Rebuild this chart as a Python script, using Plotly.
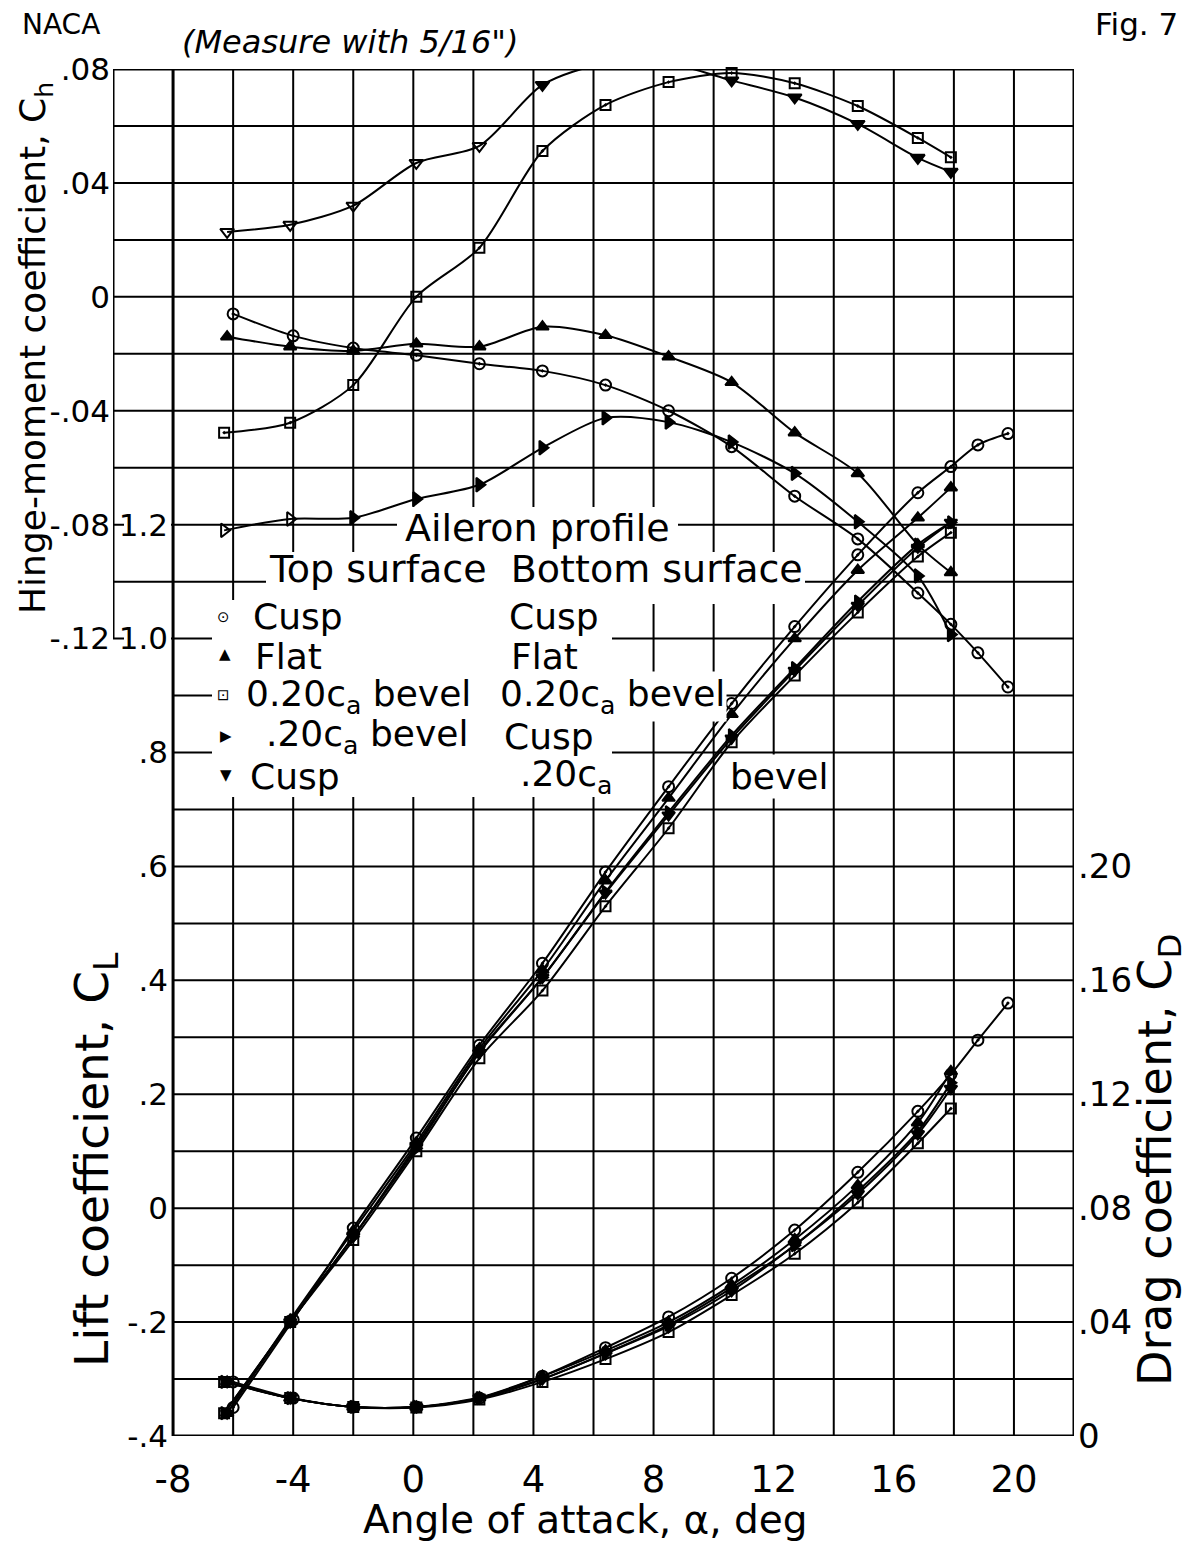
import plotly.graph_objects as go

# ---------------- data ----------------
alpha_cusp = [-6.0, -4.0, -2.0, 0.1, 2.2, 4.3, 6.4, 8.5, 10.6, 12.7, 14.8, 16.8, 17.9, 18.8, 19.8]
alpha_flat = [-6.2, -4.1, -2.0, 0.1, 2.2, 4.3, 6.4, 8.5, 10.6, 12.7, 14.8, 16.8, 17.9]
alpha_bevel = [-6.3, -4.1, -2.0, 0.1, 2.2, 4.3, 6.4, 8.5, 10.6, 12.7, 14.8, 16.8, 17.9]
alpha_bevel_cusp = [-6.3, -4.1, -2.0, 0.1, 2.2, 4.3, 6.4, 8.5, 10.6, 12.7, 14.8, 16.8, 17.9]
alpha_cusp_bevel = [-6.2, -4.1, -2.0, 0.1, 2.2, 4.3, 6.4, 8.5, 10.6, 12.7, 14.8, 16.8, 17.9]

# hinge-moment coefficient Ch
ch_cusp = [-0.006, -0.0137, -0.018, -0.0205, -0.0235, -0.026, -0.031, -0.040, -0.0526, -0.070,
           -0.085, -0.104, -0.115, -0.125, -0.137]
ch_flat = [-0.014, -0.0175, -0.019, -0.0165, -0.0175, -0.0105, -0.0135, -0.021, -0.030, -0.0477,
           -0.062, -0.087, -0.0968]
ch_bevel = [-0.0477, -0.0442, -0.031, 0.0, 0.0172, 0.0512, 0.0674, 0.0754, 0.0786, 0.075,
            0.067, 0.0558, 0.049]
ch_bevel_cusp = [-0.082, -0.078, -0.0776, -0.071, -0.066, -0.053, -0.0425, -0.044, -0.051, -0.062,
                 -0.079, -0.098, -0.1186]
ch_cusp_bevel = [0.0228, 0.0253, 0.032, 0.047, 0.053, 0.0744, 0.082, 0.082, 0.076, 0.070,
                 0.0607, 0.0488, 0.0439]

# lift coefficient CL
cl_cusp = [-0.35, -0.196, -0.035, 0.123, 0.286, 0.43, 0.59, 0.74, 0.886, 1.021, 1.147, 1.256,
           1.302, 1.34, 1.36]
cl_flat = [-0.36, -0.196, -0.04, 0.115, 0.28, 0.418, 0.575, 0.72, 0.867, 1.0, 1.12, 1.212, 1.265]
cl_bevel = [-0.36, -0.2, -0.056, 0.10, 0.263, 0.382, 0.53, 0.667, 0.818, 0.935, 1.046, 1.144, 1.186]
cl_bevel_cusp = [-0.36, -0.2, -0.05, 0.105, 0.275, 0.405, 0.555, 0.695, 0.83, 0.948, 1.065, 1.165, 1.204]
cl_cusp_bevel = [-0.36, -0.2, -0.05, 0.11, 0.273, 0.405, 0.553, 0.69, 0.825, 0.944, 1.058, 1.16, 1.204]

# drag coefficient CD
cd_cusp = [0.019, 0.0133, 0.0102, 0.0102, 0.0133, 0.021, 0.031, 0.0418, 0.0554, 0.0723, 0.0926,
           0.114, 0.127, 0.139, 0.152]
cd_flat = [0.019, 0.0133, 0.0102, 0.0102, 0.0135, 0.021, 0.030, 0.040, 0.053, 0.069, 0.088, 0.110, 0.128]
cd_bevel = [0.019, 0.0133, 0.0102, 0.0100, 0.0128, 0.019, 0.027, 0.0365, 0.0495, 0.064, 0.082,
            0.1028, 0.115]
cd_bevel_cusp = [0.019, 0.0133, 0.0102, 0.0102, 0.0133, 0.020, 0.029, 0.039, 0.052, 0.067, 0.086,
                 0.107, 0.124]
cd_cusp_bevel = [0.019, 0.0133, 0.0102, 0.0102, 0.0133, 0.020, 0.029, 0.0385, 0.051, 0.067, 0.085,
                 0.106, 0.122]

x_tickvals = [-8, -4, 0, 4, 8, 12, 16, 20]
x_ticktext = ["-8", "-4", "0", "4", "8", "12", "16", "20"]
ch_tickvals = [-0.12, -0.08, -0.04, 0, 0.04, 0.08]
ch_ticktext = ["-.12", "-.08", "-.04", "0", ".04", ".08"]
cl_tickvals = [-0.4, -0.2, 0, 0.2, 0.4, 0.6, 0.8, 1.0, 1.2]
cl_ticktext = ["-.4", "-.2", "0", ".2", ".4", ".6", ".8", "1.0", "1.2"]
cd_tickvals = [0, 0.04, 0.08, 0.12, 0.16, 0.20]
cd_ticktext = ["0", ".04", ".08", ".12", ".16", ".20"]

# ---------------- geometry ----------------
W, H = 1197, 1541
PL, PR, PT, PB = 113, 1074, 69, 1436
XR = [-10, 22]
CLR = [-0.4, 2.0]
CHR = [-0.4, 0.08]
CDR = [0.0, 0.48]
FONT = "DejaVu Sans"


def px(xp):
    return (xp - PL) / (PR - PL)


def py(yp):
    return (PB - yp) / (PB - PT)


def dx(xp):
    return XR[0] + px(xp) * (XR[1] - XR[0])


def dy(yp):
    return CLR[0] + py(yp) * (CLR[1] - CLR[0])


fig = go.Figure()


def add(xs, ys, axis, sym, size=11, lw=2):
    fig.add_trace(go.Scatter(
        x=xs, y=ys, yaxis=axis, mode="lines+markers",
        line=dict(color="black", width=lw, shape="spline", smoothing=0.8),
        marker=dict(symbol=sym, size=size, color="black", line=dict(color="black", width=2)),
        cliponaxis=False, showlegend=False, hoverinfo="skip"))


# hinge-moment curves
add(alpha_cusp, ch_cusp, "y2", "circle-open-dot", 11)
add(alpha_flat, ch_flat, "y2", "triangle-up", 11)
add(alpha_bevel, ch_bevel, "y2", "square-open-dot", 10)
add(alpha_bevel_cusp, ch_bevel_cusp, "y2",
    ["triangle-right-open"] * 2 + ["triangle-right"] * 11, 12)
add(alpha_cusp_bevel, ch_cusp_bevel, "y2",
    ["triangle-down-open"] * 5 + ["triangle-down"] * 8, 12)

# lift curves
add(alpha_cusp, cl_cusp, "y", "circle-open-dot", 11)
add(alpha_flat, cl_flat, "y", "triangle-up", 11)
add(alpha_bevel, cl_bevel, "y", "square-open-dot", 10)
add(alpha_bevel_cusp, cl_bevel_cusp, "y", "triangle-right", 11)
add(alpha_cusp_bevel, cl_cusp_bevel, "y", "triangle-down", 11)

# drag curves
add(alpha_cusp, cd_cusp, "y3", "circle-open-dot", 11)
add(alpha_flat, cd_flat, "y3", "triangle-up", 11)
add(alpha_bevel, cd_bevel, "y3", "square-open-dot", 10)
add(alpha_bevel_cusp, cd_bevel_cusp, "y3", "triangle-right", 11)
add(alpha_cusp_bevel, cd_cusp_bevel, "y3", "triangle-down", 11)

# ---------------- grid (drawn as shapes) ----------------
shapes = []
for k in range(25):
    v = round(CLR[0] + 0.1 * k, 3)
    x0 = -10 if v >= 0.999 else -8
    w = 3 if k in (0, 24) else 2
    shapes.append(dict(type="line", xref="x", yref="y", x0=x0, x1=22, y0=v, y1=v,
                       line=dict(color="black", width=w), layer="below"))
for xv in range(-10, 23, 2):
    y0 = 1.0 if xv == -10 else -0.4
    w = 3 if xv in (-10, -8, 22) else 2
    shapes.append(dict(type="line", xref="x", yref="y", x0=xv, x1=xv, y0=y0, y1=2.0,
                       line=dict(color="black", width=w), layer="below"))

# white masks behind lettering (same layer as grid, drawn after it)
masks = [
    (397, 507, 678, 556),   # Aileron profile
    (266, 552, 805, 604),   # Top surface Bottom surface
    (212, 600, 612, 797),   # legend body
    (124, 509, 171, 540),   # 1.2 label
    (124, 623, 171, 654),   # 1.0 label
]
for (x0, y0, x1, y1) in masks:
    shapes.append(dict(type="rect", xref="x", yref="y", x0=dx(x0), x1=dx(x1),
                       y0=dy(y1), y1=dy(y0), fillcolor="white", line=dict(width=0),
                       layer="below"))

# ---------------- text ----------------
ann = []


def text(t, xp, yp, size, xanchor="center", angle=0, bg=None, italic=False):
    if italic:
        t = "<i>" + t + "</i>"
    d = dict(text=t, x=px(xp), y=py(yp), xref="paper", yref="paper", showarrow=False,
             xanchor=xanchor, yanchor="middle", textangle=angle,
             font=dict(family=FONT, size=size, color="black"))
    if bg:
        d["bgcolor"] = bg
    ann.append(d)


text("NACA", 61, 24, 28)
text("(Measure with 5/16\")", 350, 42, 32, italic=True)
text("Fig. 7", 1136, 24, 31)

text("Hinge-moment coefficient, C<sub>h</sub>", 35, 348, 36, angle=-90)
text("Lift coefficient, C<sub>L</sub>", 95, 1160, 47, angle=-90)
text("Drag coefficient, C<sub>D</sub>", 1158, 1160, 46, angle=-90)
text("Angle of attack, α, deg", 585, 1520, 39)

HF = 38
LF = 36
text("Aileron profile", 537, 528, HF)
text("Top surface  Bottom surface", 536, 569, HF)
text("⊙", 223, 617, 15)
text("▲", 225, 654, 15)
text("⊡", 223, 695, 15)
text("▶", 226, 736, 15)
text("▼", 226, 775, 15)
text("Cusp", 251, 616, LF, "left")
text("Flat", 253, 656, LF, "left")
text("0.20c<sub>a</sub> bevel", 244, 696, LF, "left")
text(".20c<sub>a</sub> bevel", 264, 736, LF, "left")
text("Cusp", 248, 776, LF, "left")
text("Cusp", 507, 616, LF, "left")
text("Flat", 509, 656, LF, "left")
text("0.20c<sub>a</sub> bevel", 498, 696, LF, "left", bg="white")
text("Cusp", 502, 736, LF, "left")
text(".20c<sub>a</sub>", 518, 776, LF, "left")
text("bevel", 728, 776, LF, "left", bg="white")

fig.update_layout(
    width=W, height=H,
    margin=dict(l=PL, r=W - PR, t=PT, b=H - PB, pad=0),
    paper_bgcolor="white", plot_bgcolor="white",
    showlegend=False,
    font=dict(family=FONT, color="black"),
    shapes=shapes, annotations=ann,
    xaxis=dict(range=XR, tickvals=x_tickvals, ticktext=x_ticktext, showgrid=False,
               zeroline=False, showline=False, ticks="", tickfont=dict(size=37),
               ticklabelstandoff=18),
    yaxis=dict(range=CLR, tickvals=cl_tickvals, ticktext=cl_ticktext, showgrid=False,
               zeroline=False, showline=False, ticks="", anchor="free",
               position=px(172), tickfont=dict(size=31), ticklabelstandoff=4),
    yaxis2=dict(range=CHR, tickvals=ch_tickvals, ticktext=ch_ticktext, showgrid=False,
                zeroline=False, showline=False, ticks="", overlaying="y", anchor="free",
                position=0, side="left", tickfont=dict(size=31), ticklabelstandoff=3),
    yaxis3=dict(range=CDR, tickvals=cd_tickvals, ticktext=cd_ticktext, showgrid=False,
                zeroline=False, showline=False, ticks="", overlaying="y", anchor="x",
                side="right", tickfont=dict(size=34), ticklabelstandoff=3),
)

fig.write_html("out.html")
